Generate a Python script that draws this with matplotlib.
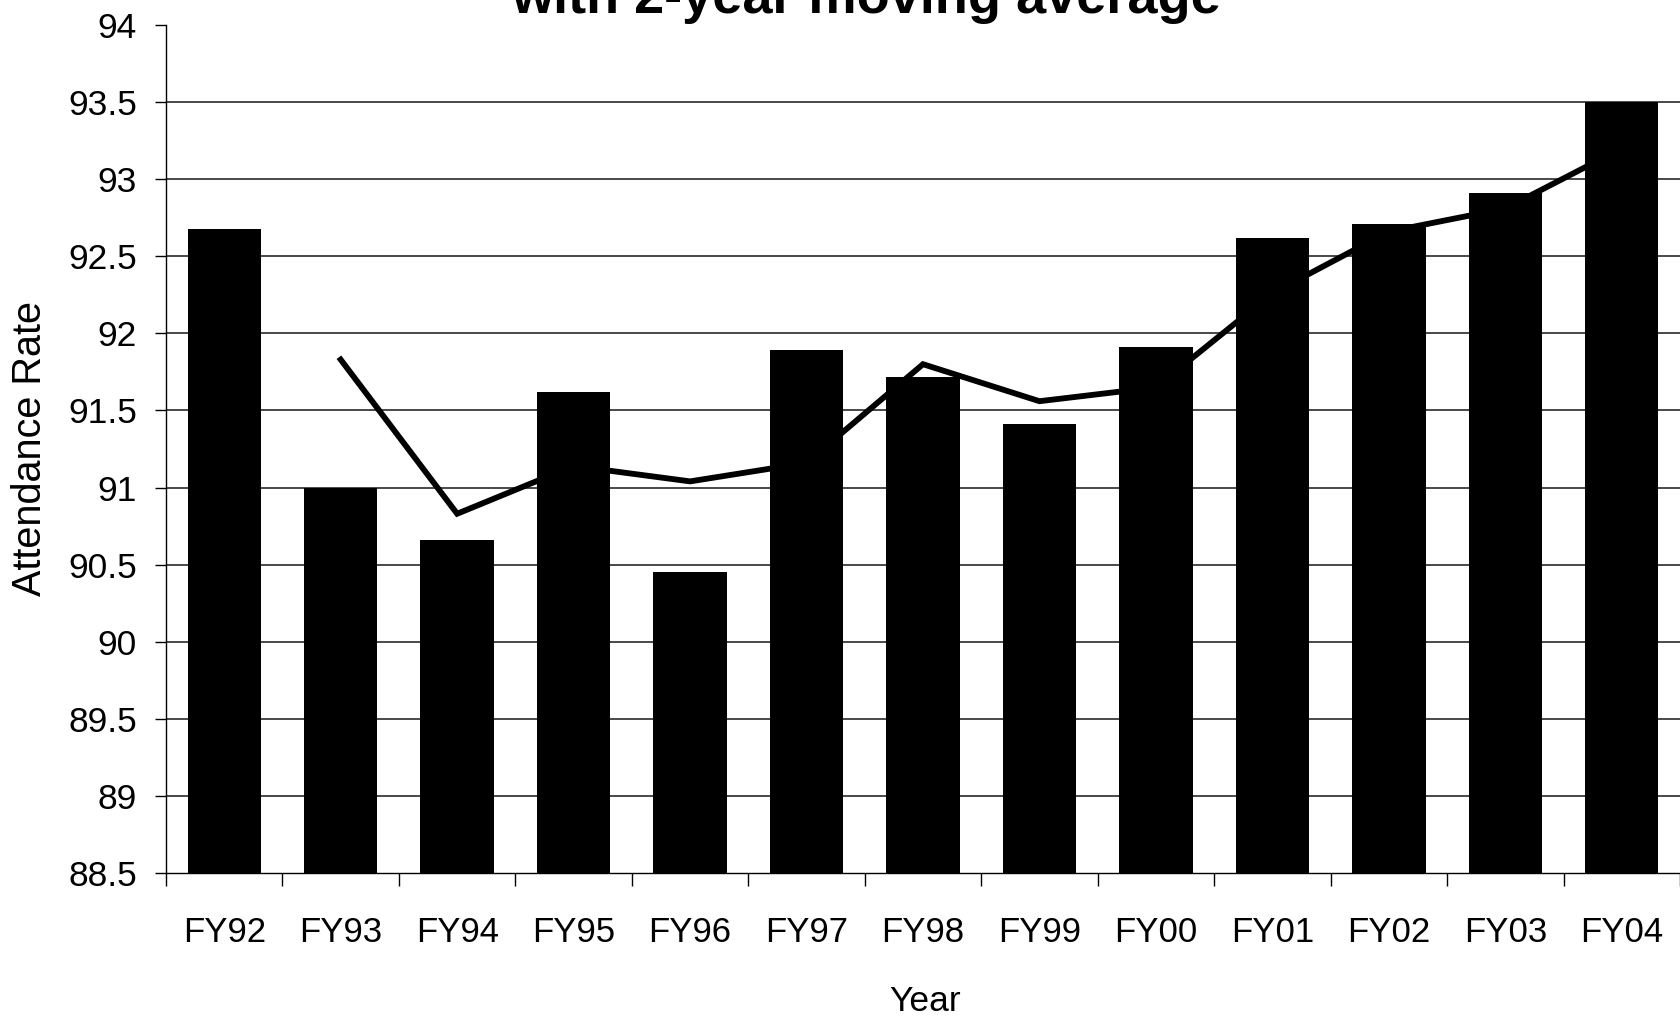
import matplotlib
matplotlib.use("Agg")
import matplotlib.pyplot as plt
import numpy as np

years = ["FY92", "FY93", "FY94", "FY95", "FY96", "FY97", "FY98",
         "FY99", "FY00", "FY01", "FY02", "FY03", "FY04"]
attendance = [92.68, 91.00, 90.66, 91.62, 90.45, 91.89, 91.72,
              91.41, 91.91, 92.62, 92.71, 92.91, 93.50]
moving_avg = [np.nan, 91.83, 90.83, 91.14, 91.04, 91.16, 91.80,
              91.56, 91.65, 92.26, 92.66, 92.81, 93.20]
y_ticks = [88.5, 89, 89.5, 90, 90.5, 91, 91.5, 92, 92.5, 93, 93.5, 94]
title_text = "with 2-year moving average"

plt.rcParams['font.family'] = ['Liberation Sans', 'DejaVu Sans']

fig = plt.figure(figsize=(16.8, 10.16), dpi=100)
ax = fig.add_axes([166/1680, 1 - 873/1016, 1 - 166/1680, (873 - 25)/1016])

x = np.arange(len(years))
ax.bar(x, attendance, width=0.63, color="black", zorder=3)
ax.plot(x, moving_avg, color="black", linewidth=4.2, zorder=2,
        solid_joinstyle="miter")

ax.set_xlim(-0.5, len(years) - 0.5)
ax.set_ylim(y_ticks[0], y_ticks[-1])
ax.set_yticks(y_ticks)
ax.set_yticklabels([("%g" % v) for v in y_ticks])
for v in y_ticks[1:-1]:
    ax.axhline(v, color="#3a3a3a", linewidth=1.3, zorder=1)

ax.set_xticks(x)
ax.set_xticklabels(years)
ax.set_xticks(np.arange(-0.5, len(years), 1.0), minor=True)
ax.tick_params(axis="x", which="major", length=0, pad=31, labelsize=25)
ax.tick_params(axis="x", which="minor", length=9.5, width=1.0, direction="out")
ax.tick_params(axis="y", length=8, width=1.0, direction="out", pad=13,
               labelsize=25.5)

for s in ["top", "right"]:
    ax.spines[s].set_visible(False)
ax.spines["left"].set_color("black")
ax.spines["bottom"].set_color("black")
ax.spines["left"].set_linewidth(1.0)
ax.spines["bottom"].set_linewidth(1.0)

fig.text(30/1680, 1 - 448/1016, "Attendance Rate", rotation=90,
         ha="center", va="center", fontsize=28.5)
fig.text(925/1680, 1 - 1011/1016, "Year", ha="center", va="baseline",
         fontsize=25.5)
fig.text(866/1680, 1 - 12.5/1016, title_text, ha="center", va="baseline",
         fontsize=39, fontweight="bold")

fig.savefig("out.png", dpi=100)
